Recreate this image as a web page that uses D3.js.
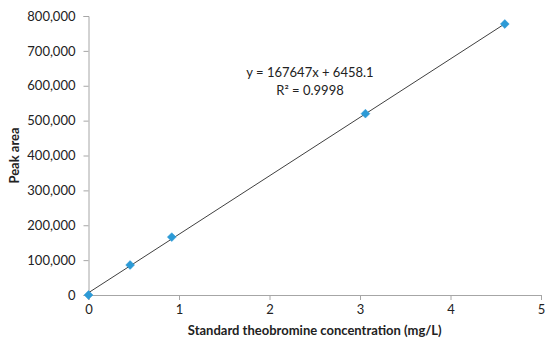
<!DOCTYPE html>
<html>
<head>
<meta charset="utf-8">
<script src="https://cdn.jsdelivr.net/npm/d3@7"></script>
<style>
  body { margin: 0; background: #fff; }
  svg { display: block; font-family: Lato, "Open Sans", sans-serif; }
</style>
</head>
<body>
<div id="chart"></div>
<script>
// calibration points
const conc = [0, 0.46, 0.92, 3.06, 4.6]
const area = [0, 86000, 166000, 520000, 777000]
const xTicks = [0, 1, 2, 3, 4, 5]
const yTicks = [0, 100000, 200000, 300000, 400000, 500000, 600000, 700000, 800000]
// trendline as printed on the chart
const slope = 167647
const intercept = 6458.1
const eqText = ["y = 167647x + 6458.1", "R² = 0.9998"]

const width = 550
const height = 349
const margin = {top: 16, right: 9, bottom: 54, left: 88.5}

const svg = d3.select("#chart")
  .append("svg")
    .attr("width", width)
    .attr("height", height)

const x = d3.scaleLinear()
  .domain([0, 5])
  .range([margin.left, width - margin.right])

const y = d3.scaleLinear()
  .domain([0, 800000])
  .range([height - margin.bottom, margin.top])

const axisColor = "#a6a6a6"
const fmt = d3.format(",")

// y axis
const yAxis = svg.append("g")
  .attr("transform", `translate(${margin.left},0)`)
  .call(d3.axisLeft(y).tickValues(yTicks).tickSize(5).tickFormat(fmt))
yAxis.select(".domain").attr("stroke", axisColor)
yAxis.selectAll(".tick line").attr("stroke", axisColor)
yAxis.selectAll(".tick text")
  .attr("font-size", 13)
  .attr("font-family", "Lato, sans-serif")
  .attr("fill", "#222")
  .attr("x", -13)

// x axis
const xAxis = svg.append("g")
  .attr("transform", `translate(0,${y(0)})`)
  .call(d3.axisBottom(x).tickValues(xTicks).tickSize(5).tickFormat(d3.format("d")))
xAxis.select(".domain").attr("stroke", axisColor)
xAxis.selectAll(".tick line").attr("stroke", axisColor)
xAxis.selectAll(".tick text")
  .attr("font-size", 13)
  .attr("font-family", "Lato, sans-serif")
  .attr("fill", "#222")
  .attr("y", 10)

// axis titles
svg.append("text")
  .attr("x", (x(0) + x(5)) / 2 + 0)
  .attr("y", 335)
  .attr("text-anchor", "middle")
  .attr("font-size", 13)
  .attr("font-weight", "bold")
  .attr("fill", "#222")
  .text("Standard theobromine concentration (mg/L)")

svg.append("text")
  .attr("transform", `translate(19,${(y(0) + y(800000)) / 2}) rotate(-90)`)
  .attr("text-anchor", "middle")
  .attr("font-size", 13)
  .attr("font-weight", "bold")
  .attr("fill", "#222")
  .text("Peak area")

// trendline
const xMax = d3.max(conc)
svg.append("line")
  .attr("x1", x(0))
  .attr("y1", y(intercept))
  .attr("x2", x(xMax))
  .attr("y2", y(slope * xMax + intercept))
  .attr("stroke", "#404040")
  .attr("stroke-width", 1)

// markers
const pts = conc.map((c, i) => ({c: c, a: area[i]}))
svg.append("g")
  .selectAll("path")
  .data(pts)
  .join("path")
    .attr("d", d3.symbol().type(d3.symbolDiamond2).size(50))
    .attr("transform", d => `translate(${x(d.c)},${y(d.a)})`)
    .attr("fill", "#2c9ad6")
    .attr("stroke", "#2c9ad6")
    .attr("stroke-width", 0.5)

// equation label
svg.append("g")
  .selectAll("text")
  .data(eqText)
  .join("text")
    .attr("x", 310)
    .attr("y", (d, i) => 77 + i * 18)
    .attr("text-anchor", "middle")
    .attr("font-size", 13)
    .attr("fill", "#222")
    .text(d => d)
</script>
</body>
</html>
